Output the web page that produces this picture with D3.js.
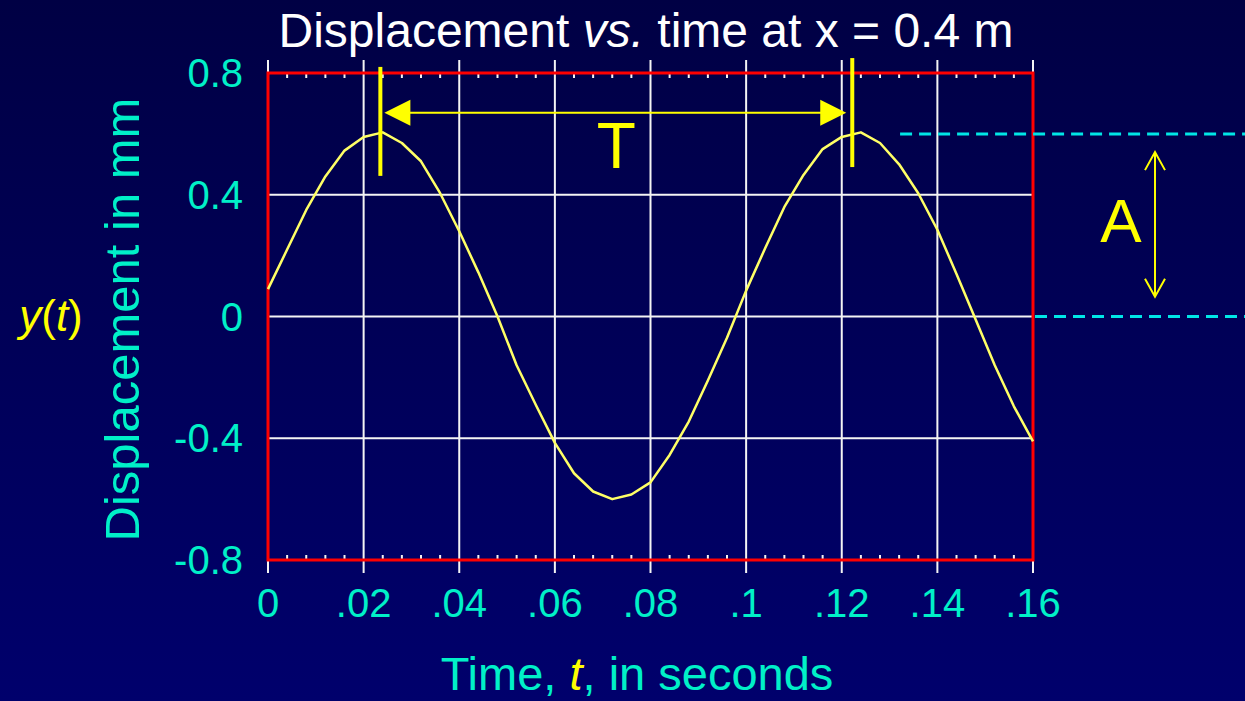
<!DOCTYPE html>
<html>
<head>
<meta charset="utf-8">
<script src="https://cdn.jsdelivr.net/npm/d3@7"></script>
<style>
  html, body { margin: 0; padding: 0; background: #000050; }
  svg { display: block; font-family: "Liberation Sans", Arial, sans-serif; }
</style>
</head>
<body>
<svg class="chart"></svg>
<script>
var width = 1245,
  height = 701,
  margin = { top: 73, right: 212, bottom: 141, left: 268 };

// time samples (s) and displacement (mm)
var times = [0, .004, .008, .012, .016, .02, .024, .028, .032, .036,
  .04, .044, .048, .052, .056, .06, .064, .068, .072, .076,
  .08, .084, .088, .092, .096, .1, .104, .108, .112, .116,
  .12, .124, .128, .132, .136, .14, .144, .148, .152, .156, .16];
var displacement = [0.09, 0.22, 0.35, 0.46, 0.545, 0.59, 0.605, 0.57, 0.51, 0.405,
  0.28, 0.145, 0.0, -0.16, -0.29, -0.415, -0.515, -0.575, -0.6, -0.585,
  -0.545, -0.455, -0.345, -0.21, -0.07, 0.085, 0.225, 0.36, 0.465, 0.55,
  0.59, 0.605, 0.57, 0.5, 0.405, 0.285, 0.14, -0.01, -0.16, -0.295, -0.41];

var xTicks = [0, .02, .04, .06, .08, .1, .12, .14, .16];
var xTickLabels = ["0", ".02", ".04", ".06", ".08", ".1", ".12", ".14", ".16"];
var yTicks = [0.8, 0.4, 0, -0.4, -0.8];
var yTickLabels = ["0.8", "0.4", "0", "-0.4", "-0.8"];
var yGrid = [0.4, 0, -0.4];

// period markers and amplitude
var periodStart = 0.0235, periodEnd = 0.1222, amplitude = 0.6;

var cyanText = "#00f0c8",
  yellow = "#ffff00";

var svg = d3.select(".chart")
  .attr("width", width)
  .attr("height", height);

var defs = svg.append("defs");
var grad = defs.append("linearGradient")
  .attr("id", "bg")
  .attr("x1", 0).attr("y1", 0).attr("x2", 0).attr("y2", 1);
grad.append("stop").attr("offset", "0%").attr("stop-color", "#000044");
grad.append("stop").attr("offset", "100%").attr("stop-color", "#00006c");

svg.append("rect")
  .attr("width", width)
  .attr("height", height)
  .attr("fill", "url(#bg)");

var x = d3.scaleLinear().domain([0, 0.16]).range([margin.left, width - margin.right]);
var y = d3.scaleLinear().domain([-0.8, 0.8]).range([height - margin.bottom, margin.top]);

// vertical grid, sticking out past the frame
svg.append("g")
  .selectAll("line")
  .data(xTicks)
  .enter().append("line")
  .attr("x1", function (d) { return x(d); })
  .attr("x2", function (d) { return x(d); })
  .attr("y1", y(0.8) - 13)
  .attr("y2", y(-0.8) + 13)
  .attr("stroke", "#f4f4f4")
  .attr("stroke-width", 2);

svg.append("g")
  .selectAll("line")
  .data(yGrid)
  .enter().append("line")
  .attr("x1", x(0))
  .attr("x2", x(0.16))
  .attr("y1", function (d) { return y(d); })
  .attr("y2", function (d) { return y(d); })
  .attr("stroke", "#f4f4f4")
  .attr("stroke-width", 2);

// minor ticks along top and bottom
var minor = d3.range(0, 0.1601, 0.004).filter(function (d, i) { return i % 5 !== 0; });
var minorG = svg.append("g").attr("stroke", "#f4f4f4").attr("stroke-width", 2);
minorG.selectAll(".mt")
  .data(minor)
  .enter().append("line")
  .attr("class", "mt")
  .attr("x1", function (d) { return x(d); })
  .attr("x2", function (d) { return x(d); })
  .attr("y1", y(0.8))
  .attr("y2", y(0.8) + 5);
minorG.selectAll(".mb")
  .data(minor)
  .enter().append("line")
  .attr("class", "mb")
  .attr("x1", function (d) { return x(d); })
  .attr("x2", function (d) { return x(d); })
  .attr("y1", y(-0.8))
  .attr("y2", y(-0.8) - 5);

// frame
svg.append("rect")
  .attr("x", x(0))
  .attr("y", y(0.8))
  .attr("width", x(0.16) - x(0))
  .attr("height", y(-0.8) - y(0.8))
  .attr("fill", "none")
  .attr("stroke", "#ff0000")
  .attr("stroke-width", 3);

// trace
var line = d3.line()
  .x(function (d, i) { return x(times[i]); })
  .y(function (d) { return y(d); });

svg.append("path")
  .datum(displacement)
  .attr("d", line)
  .attr("fill", "none")
  .attr("stroke", "#ffff66")
  .attr("stroke-width", 2.5)
  .attr("stroke-linejoin", "round");

// tick labels
svg.append("g")
  .selectAll("text")
  .data(yTicks)
  .enter().append("text")
  .attr("x", x(0) - 25)
  .attr("y", function (d) { return y(d) + 14; })
  .attr("text-anchor", "end")
  .attr("fill", cyanText)
  .attr("font-size", 40)
  .text(function (d, i) { return yTickLabels[i]; });

svg.append("g")
  .selectAll("text")
  .data(xTicks)
  .enter().append("text")
  .attr("x", function (d) { return x(d); })
  .attr("y", y(-0.8) + 57)
  .attr("text-anchor", "middle")
  .attr("fill", cyanText)
  .attr("font-size", 40)
  .text(function (d, i) { return xTickLabels[i]; });

// titles
var title = svg.append("text")
  .attr("x", 646)
  .attr("y", 47)
  .attr("text-anchor", "middle")
  .attr("fill", "#ffffff")
  .attr("font-size", 48);
title.append("tspan").text("Displacement ");
title.append("tspan").attr("font-style", "italic").text("vs.");
title.append("tspan").text(" time at x = 0.4 m");

var xTitle = svg.append("text")
  .attr("x", 637)
  .attr("y", 690)
  .attr("text-anchor", "middle")
  .attr("fill", cyanText)
  .attr("font-size", 47);
xTitle.append("tspan").text("Time, ");
xTitle.append("tspan").attr("font-style", "italic").attr("fill", yellow).text("t");
xTitle.append("tspan").text(", in seconds");

svg.append("text")
  .attr("transform", "translate(139," + (y(0) + 3) + ") rotate(-90)")
  .attr("text-anchor", "middle")
  .attr("fill", cyanText)
  .attr("font-size", 49)
  .text("Displacement in mm");

var yt = svg.append("text")
  .attr("x", 51)
  .attr("y", 331)
  .attr("text-anchor", "middle")
  .attr("fill", yellow)
  .attr("font-size", 44);
yt.append("tspan").attr("font-style", "italic").text("y");
yt.append("tspan").text("(");
yt.append("tspan").attr("font-style", "italic").text("t");
yt.append("tspan").text(")");

// period annotation
svg.append("line")
  .attr("x1", x(periodStart)).attr("x2", x(periodStart))
  .attr("y1", y(0.82)).attr("y2", y(0.462))
  .attr("stroke", yellow).attr("stroke-width", 4);
svg.append("line")
  .attr("x1", x(periodEnd)).attr("x2", x(periodEnd))
  .attr("y1", y(0.849)).attr("y2", y(0.491))
  .attr("stroke", yellow).attr("stroke-width", 4);

var ay = y(0.669),
  ax1 = x(periodStart) + 4,
  ax2 = x(periodEnd) - 6;
svg.append("line")
  .attr("x1", ax1 + 20).attr("x2", ax2 - 20)
  .attr("y1", ay).attr("y2", ay)
  .attr("stroke", yellow).attr("stroke-width", 2);
svg.append("path")
  .attr("d", "M" + ax1 + "," + ay + "L" + (ax1 + 26) + "," + (ay - 13) + "L" + (ax1 + 26) + "," + (ay + 13) + "Z")
  .attr("fill", yellow);
svg.append("path")
  .attr("d", "M" + ax2 + "," + ay + "L" + (ax2 - 26) + "," + (ay - 13) + "L" + (ax2 - 26) + "," + (ay + 13) + "Z")
  .attr("fill", yellow);

svg.append("text")
  .attr("x", x((periodStart + periodEnd) / 2))
  .attr("y", 168)
  .attr("text-anchor", "middle")
  .attr("fill", yellow)
  .attr("font-size", 64)
  .text("T");

// amplitude annotation
svg.append("line")
  .attr("x1", x(0.1322)).attr("x2", width)
  .attr("y1", y(amplitude)).attr("y2", y(amplitude))
  .attr("stroke", "#00e6e6").attr("stroke-width", 3)
  .attr("stroke-dasharray", "12,7");
svg.append("line")
  .attr("x1", x(0.16) + 2).attr("x2", width)
  .attr("y1", y(0)).attr("y2", y(0))
  .attr("stroke", "#00e6e6").attr("stroke-width", 3)
  .attr("stroke-dasharray", "12,7");

var aX = 1155,
  aTop = y(0.54),
  aBot = y(0.065);
svg.append("line")
  .attr("x1", aX).attr("x2", aX)
  .attr("y1", aTop).attr("y2", aBot)
  .attr("stroke", yellow).attr("stroke-width", 2);
svg.append("path")
  .attr("d", "M" + (aX - 10) + "," + (aTop + 18) + "L" + aX + "," + aTop + "L" + (aX + 10) + "," + (aTop + 18) +
    "M" + (aX - 10) + "," + (aBot - 18) + "L" + aX + "," + aBot + "L" + (aX + 10) + "," + (aBot - 18))
  .attr("fill", "none")
  .attr("stroke", yellow)
  .attr("stroke-width", 2);

svg.append("text")
  .attr("x", 1121)
  .attr("y", 242)
  .attr("text-anchor", "middle")
  .attr("fill", yellow)
  .attr("font-size", 62)
  .text("A");
</script>
</body>
</html>
